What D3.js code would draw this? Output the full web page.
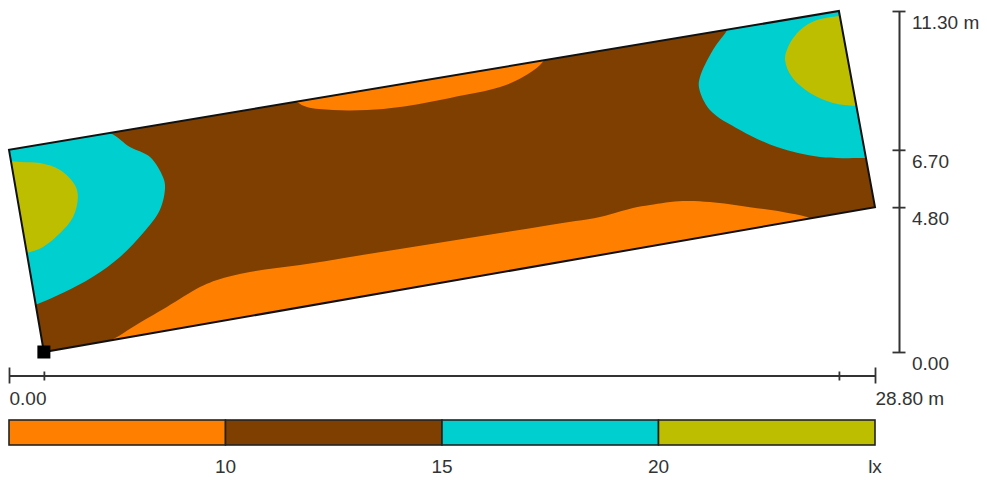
<!DOCTYPE html>
<html>
<head>
<meta charset="utf-8">
<script src="https://cdn.jsdelivr.net/npm/d3@7"></script>
<style>
    body { margin: 0; background: #fff; }
    svg text { font-family: "Liberation Sans", Arial, sans-serif; }
</style>
</head>
<body>
<div id="chart"></div>
<script>
// room corners in metres (x, y)
var room = [[1.16, 0], [0, 6.70], [27.6, 11.3], [28.8, 4.8]];

var xTicks = [0, 1.16, 27.6, 28.8];
var xLabels = ["0.00", "", "", "28.80 m"];
var yTicks = [0, 4.8, 6.7, 11.3];
var yLabels = ["0.00", "4.80", "6.70", "11.30 m"];

// lux bands: <10, 10-15, 15-20, >20
var levels = [10, 15, 20];
var bandColors = ["#ff8000", "#7f3f00", "#00cfcf", "#bebe00"];
var legendLabels = ["10", "15", "20", "lx"];

// isolux boundaries (metres), plus points outside the room to close them
var orangeTop = [[9.18, 8.52], [9.58, 8.28], [9.91, 8.12], [10.78, 8.02], [11.91, 8.02], [13.00, 8.12],
    [14.67, 8.42], [16.33, 8.78], [17.09, 9.11], [17.66, 9.51], [17.93, 9.84]];
var orangeTopOut = [[18.2, 10.5], [9.0, 10.5]];

var orangeBottom = [[3.03, 0.23], [3.53, 0.46], [4.12, 0.83], [5.25, 1.49], [6.35, 2.15], [6.92, 2.39],
    [8.01, 2.65], [9.68, 2.88], [11.34, 3.15], [13.00, 3.41], [14.67, 3.68], [16.33, 3.94], [17.99, 4.21],
    [19.65, 4.47], [20.75, 4.77], [21.32, 4.87], [22.41, 5.00], [23.31, 4.97], [24.64, 4.80], [25.74, 4.64],
    [26.54, 4.47], [27.14, 4.21]];
var orangeBottomOut = [[27.5, -0.5], [3.0, -0.5]];

var cyanLeft = [[-0.30, 7.36], [1.70, 7.52], [3.36, 7.26], [4.02, 6.79], [4.69, 6.46], [5.12, 5.80],
    [5.19, 5.47], [5.02, 4.71], [4.46, 3.94], [3.69, 3.15], [2.79, 2.49], [1.80, 1.96], [1.03, 1.62],
    [0.37, 1.39], [-0.30, 1.33]];
var cyanLeftOut = [[-0.6, 1.3], [-0.6, 7.4]];

var oliveLeft = [[-0.30, 6.36], [0.37, 6.30], [1.03, 6.26], [1.70, 6.03], [2.19, 5.53], [2.29, 5.14],
    [2.13, 4.47], [1.70, 3.94], [1.13, 3.48], [0.70, 3.31], [0.20, 3.18], [-0.30, 3.11]];
var oliveLeftOut = [[-0.6, 3.1], [-0.6, 6.4]];

var cyanRight = [[24.14, 11.17], [23.91, 10.70], [23.41, 10.01], [22.98, 9.11], [22.95, 8.75], [23.31, 8.02],
    [24.31, 7.36], [25.54, 6.79], [26.97, 6.46], [28.50, 6.43], [29.46, 6.43]];
var cyanRightOut = [[29.6, 6.4], [29.6, 12], [24.2, 12]];

var oliveRight = [[27.97, 11.17], [26.87, 11.00], [26.31, 10.67], [25.91, 10.11], [25.81, 9.68], [26.04, 9.11],
    [26.64, 8.58], [27.40, 8.25], [28.17, 8.15], [29.13, 8.15]];
var oliveRightOut = [[29.6, 8.15], [29.6, 12], [28.0, 12]];

var width = 987,
    height = 480;

var svg = d3.select("#chart").append("svg")
    .attr("width", width)
    .attr("height", height);

var x = d3.scaleLinear().domain([0, 28.8]).range([9, 875]);
var y = d3.scaleLinear().domain([0, 11.3]).range([352, 11]);

var line = d3.line()
    .x(function (d) { return x(d[0]); })
    .y(function (d) { return y(d[1]); });

var smooth = d3.line()
    .x(function (d) { return x(d[0]); })
    .y(function (d) { return y(d[1]); })
    .curve(d3.curveCatmullRom.alpha(0.5));

svg.append("clipPath")
    .attr("id", "room-clip")
    .append("path")
    .attr("d", line(room) + "Z");

// zones drawn over the 10-15 lx base, lowest band first
var zones = [
    { band: 0, edge: orangeTop, out: orangeTopOut },
    { band: 0, edge: orangeBottom, out: orangeBottomOut },
    { band: 2, edge: cyanLeft, out: cyanLeftOut },
    { band: 2, edge: cyanRight, out: cyanRightOut },
    { band: 3, edge: oliveLeft, out: oliveLeftOut },
    { band: 3, edge: oliveRight, out: oliveRightOut }
];

var plot = svg.append("g").attr("clip-path", "url(#room-clip)");

plot.append("path")
    .attr("d", line(room) + "Z")
    .attr("fill", bandColors[1]);

plot.selectAll(".zone")
    .data(zones)
    .enter().append("path")
    .attr("class", "zone")
    .attr("d", function (d) {
        var tail = d.out.map(function (p) { return "L" + x(p[0]) + "," + y(p[1]); }).join("");
        return smooth(d.edge) + tail + "Z";
    })
    .attr("fill", function (d) { return bandColors[d.band]; });

// room outline
svg.append("path")
    .attr("d", line(room) + "Z")
    .attr("fill", "none")
    .attr("stroke", "#111")
    .attr("stroke-width", 2)
    .attr("stroke-linejoin", "miter");

// reference corner marker
svg.append("rect")
    .attr("x", x(room[0][0]) - 6.5)
    .attr("y", y(room[0][1]) - 6.5)
    .attr("width", 13)
    .attr("height", 13)
    .attr("fill", "#000");

// bottom dimension axis
var xAxis = d3.axisBottom(x)
    .tickValues(xTicks)
    .tickSize(0)
    .tickSizeOuter(0)
    .tickFormat(function (d, i) { return xLabels[i]; });

var gx = svg.append("g")
    .attr("transform", "translate(0,375.5)")
    .call(xAxis)
    .attr("font-size", 19)
    .attr("font-family", "Liberation Sans, Arial, sans-serif")
    .style("color", "#333");

gx.select(".domain").attr("stroke-width", 2);
gx.selectAll(".tick line")
    .attr("stroke-width", 1.8)
    .attr("y1", function (d, i) { return (i == 0 || i == xTicks.length - 1) ? -8 : -4; })
    .attr("y2", function (d, i) { return (i == 0 || i == xTicks.length - 1) ? 8 : 5; });
gx.selectAll(".tick text")
    .attr("text-anchor", "start")
    .attr("x", 0)
    .attr("y", 29.5)
    .attr("dy", null);

// right dimension axis
var yAxis = d3.axisRight(y)
    .tickValues(yTicks)
    .tickSize(0)
    .tickSizeOuter(0)
    .tickFormat(function (d, i) { return yLabels[i]; });

var gy = svg.append("g")
    .attr("transform", "translate(899,0)")
    .call(yAxis)
    .attr("font-size", 19)
    .attr("font-family", "Liberation Sans, Arial, sans-serif")
    .style("color", "#333");

gy.select(".domain").attr("stroke-width", 2);
gy.selectAll(".tick line")
    .attr("stroke-width", 1.8)
    .attr("x1", -6.5)
    .attr("x2", 6.5);
gy.selectAll(".tick text")
    .attr("text-anchor", "start")
    .attr("x", 13)
    .attr("y", 17.5)
    .attr("dy", null);

// colour legend
var legendX = d3.scaleLinear().domain([0, bandColors.length]).range([9, 875]);

var legend = svg.append("g");

legend.selectAll("rect")
    .data(bandColors)
    .enter().append("rect")
    .attr("x", function (d, i) { return legendX(i); })
    .attr("y", 420)
    .attr("width", function (d, i) { return legendX(i + 1) - legendX(i); })
    .attr("height", 25)
    .attr("fill", function (d) { return d; })
    .attr("stroke", "#222")
    .attr("stroke-width", 1.6);

legend.selectAll("text")
    .data(legendLabels)
    .enter().append("text")
    .attr("x", function (d, i) { return legendX(i + 1); })
    .attr("y", 473)
    .attr("text-anchor", "middle")
    .attr("font-size", 19)
    .attr("fill", "#333")
    .text(function (d) { return d; });
</script>
</body>
</html>
